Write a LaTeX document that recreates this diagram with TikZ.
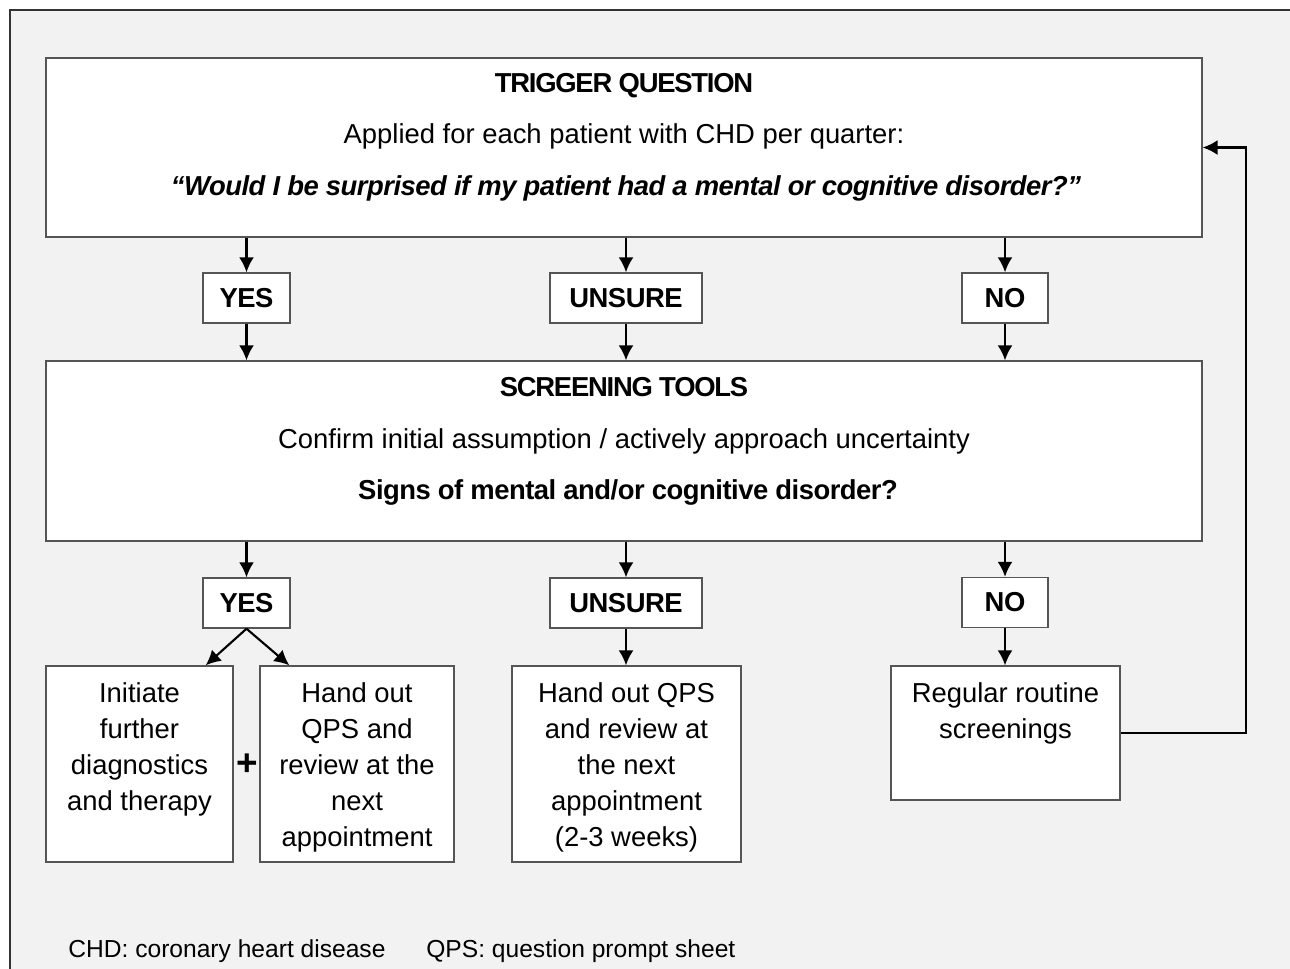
\documentclass[tikz,border=0pt]{standalone}
\usepackage{fontspec}
\setmainfont{Liberation Sans}
\usetikzlibrary{arrows.meta,positioning,calc}
\definecolor{framegray}{RGB}{51,51,51}
\definecolor{bggray}{RGB}{242,242,242}
\definecolor{boxgray}{RGB}{85,85,85}
\newcommand{\diafont}{\fontsize{15.6pt}{20.5pt}\selectfont}
\newcommand{\headfont}{\diafont\bfseries\addfontfeature{LetterSpace=-4.5}}
\newcommand{\strongfont}{\diafont\bfseries\addfontfeature{LetterSpace=-1.8}}

\begin{document}
\begin{tikzpicture}[x=0.02cm, y=-0.02cm,
    box/.style={draw=boxgray, line width=0.8pt, fill=white, inner sep=0pt},
    answer/.style={box, minimum height=1cm, font=\strongfont},
    txt/.style={inner sep=0pt, align=center, font=\diafont},
    flow/.style={-{Latex[length=0.3cm,width=0.3cm]}, line width=1.2pt, black}]
    \useasboundingbox (0,0) rectangle (1290,968);
    \fill[white] (0,0) rectangle (1290,968);
    \draw[framegray, line width=0.8pt, fill=bggray] (10,10) rectangle (1320,1000);

    % trigger question
    \node[box, minimum width=23.12cm, minimum height=3.58cm] (trig) at (624,147.5) {};
    \node[txt, anchor=base, font=\headfont] (trigtitle) at (624,92) {TRIGGER QUESTION};
    \node[txt, anchor=base] (trigtext) at (624,143) {Applied for each patient with CHD per quarter:};
    \node[txt, anchor=base, font=\strongfont\itshape] (trigquote) at (626,195) {``Would I be surprised if my patient had a mental or cognitive disorder?''};

    \node[answer, minimum width=1.74cm] (yes1) at (246.5,298) {YES};
    \node[answer, minimum width=3.04cm] (uns1) at (626,298) {UNSURE};
    \node[answer, minimum width=1.72cm] (no1) at (1005,298) {NO};

    % screening tools
    \node[box, minimum width=23.12cm, minimum height=3.6cm] (scr) at (624,451) {};
    \node[txt, anchor=base, font=\headfont] (scrtitle) at (624,396) {SCREENING TOOLS};
    \node[txt, anchor=base] (scrtext) at (624,448) {Confirm initial assumption / actively approach uncertainty};
    \node[txt, anchor=base, font=\strongfont] (scrquest) at (628,499) {Signs of mental and/or cognitive disorder?};

    \node[answer, minimum width=1.74cm] (yes2) at (246.5,603) {YES};
    \node[answer, minimum width=3.04cm] (uns2) at (626,603) {UNSURE};
    \node[answer, minimum width=1.72cm] (no2) at (1005,602.5) {NO};

    % outcomes
    \node[box, minimum width=3.74cm, minimum height=3.92cm] (diag) at (139.5,764) {};
    \node[box, minimum width=3.88cm, minimum height=3.92cm] (qpsa) at (357,764) {};
    \node[box, minimum width=4.58cm, minimum height=3.92cm] (qpsb) at (626.5,764) {};
    \node[box, minimum width=4.58cm, minimum height=2.68cm] (routine) at (1005.5,733) {};
    \node[txt, anchor=north] (diagtext) at (diag.north |- 0,682) {Initiate\\further\\diagnostics\\and therapy};
    \node[txt, anchor=north] (qpsatext) at (qpsa.north |- 0,682) {Hand out\\QPS and\\review at the\\next\\appointment};
    \node[txt, anchor=north] (qpsbtext) at (qpsb.north |- 0,682) {Hand out QPS\\and review at\\the next\\appointment\\(2-3 weeks)};
    \node[txt, anchor=north] (routinetext) at (routine.north |- 0,682) {Regular routine\\screenings};
    \node[txt, font=\fontsize{21pt}{21pt}\selectfont\bfseries] (plus) at (247,765) {+};

    % footnote
    \node[txt, anchor=base west, font=\fontsize{14pt}{17pt}\selectfont] (chd) at (68,957) {CHD: coronary heart disease};
    \node[txt, anchor=base west, font=\fontsize{14pt}{17pt}\selectfont] (qps) at (426,957) {QPS: question prompt sheet};

    % arrows
    \foreach \ans/\nxt in {yes1/yes2, uns1/uns2, no1/no2} {
        \draw[flow] (\ans |- trig.south) -- (\ans.north);
        \draw[flow] (\ans.south) -- (\ans |- scr.north);
        \draw[flow] (\nxt |- scr.south) -- (\nxt.north);
    }
    \draw[flow] (yes2.south) -- ($(diag.north east)+(-28,0)$);
    \draw[flow] (yes2.south) -- ($(qpsa.north west)+(30,0)$);
    \draw[flow] (uns2.south) -- (uns2 |- qpsb.north);
    \draw[flow] (no2.south) -- (no2 |- routine.north);
    \draw[flow] (routine.east) -- ++(125,0) |- (trig.east);
\end{tikzpicture}
\end{document}
